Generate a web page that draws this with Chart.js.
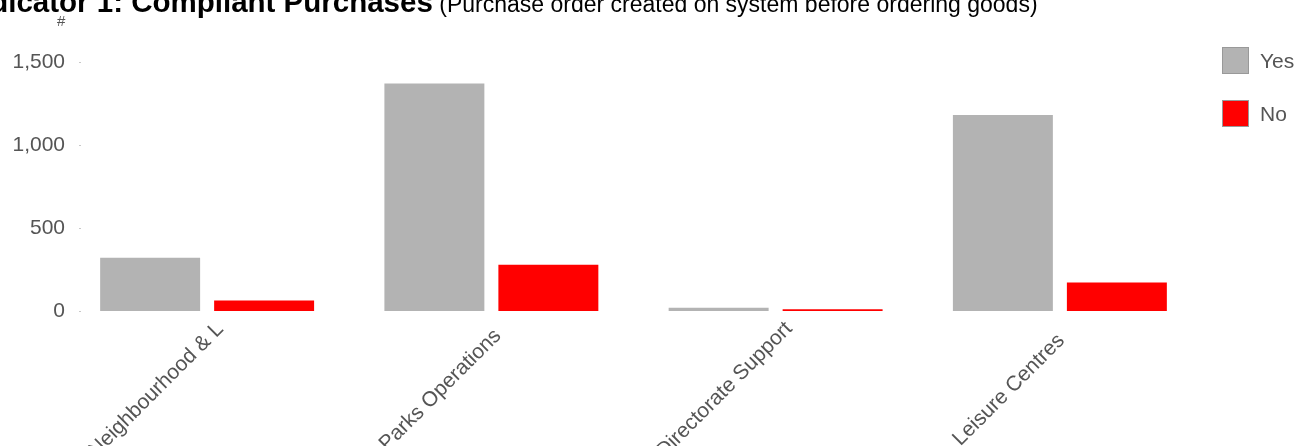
<!DOCTYPE html>
<html>
<head>
<meta charset="utf-8">
<script src="https://cdn.jsdelivr.net/npm/chart.js@4"></script>
<style>
  html, body { margin: 0; padding: 0; background: #fff; overflow: hidden; }
  #wrap { position: relative; width: 1300px; height: 446px; }
  #title {
    position: absolute; left: -36px; top: -15px; white-space: nowrap;
    font-family: "Liberation Sans", Arial, sans-serif; color: #000;
  }
  #title b { font-weight: bold; font-size: 29.5px; }
  #title span { font-size: 23px; }
  #unit {
    position: absolute; left: 57px; top: 12px;
    font-family: "Liberation Sans", Arial, sans-serif; font-size: 15px; color: #555;
  }
  #legend { position: absolute; left: 1222px; top: 47px; }
  .item { display: flex; align-items: center; height: 27px; margin-bottom: 26px;
    font-family: "Liberation Sans", Arial, sans-serif; font-size: 21px; color: #555; }
  .box { width: 25px; height: 25px; border: 1px solid #999; margin-right: 11px; }
</style>
</head>
<body>
<div id="wrap">
  <canvas id="purchases" width="1300" height="446"></canvas>
  <div id="title"><b>Indicator 1: Compliant Purchases</b><span> (Purchase order created on system before ordering goods)</span></div>
  <div id="unit">#</div>
  <div id="legend"></div>
</div>
<script>
const departments = ['Neighbourhood & L', 'Parks Operations', 'Directorate Support', 'Leisure Centres'];
const yesCounts = [321, 1370, 20, 1180];
const noCounts = [64, 279, 10, 171];
const yTicks = [0, 500, 1000, 1500];

const fontFamily = '"Liberation Sans", Arial, sans-serif';

// little grey dots next to the value labels
const tickDots = {
    id: 'tickDots',
    afterDraw(chart) {
        const ctx = chart.ctx;
        const y = chart.scales.y;
        ctx.save();
        ctx.fillStyle = '#c8c8c8';
        y.ticks.forEach(t => {
            const py = Math.round(y.getPixelForValue(t.value));
            ctx.fillRect(chart.chartArea.left + 14, py, 2, 1);
        });
        ctx.restore();
    }
};

// category labels at 45 degrees, centred on a point below-left of each tick
const slantLabels = {
    id: 'slantLabels',
    afterDraw(chart) {
        const ctx = chart.ctx;
        const x = chart.scales.x;
        ctx.save();
        ctx.font = '21px ' + fontFamily;
        ctx.fillStyle = '#555';
        ctx.textAlign = 'center';
        ctx.textBaseline = 'middle';
        chart.data.labels.forEach((label, i) => {
            ctx.save();
            ctx.translate(x.getPixelForTick(i) - 51, chart.chartArea.bottom + 79);
            ctx.rotate(-Math.PI / 4);
            ctx.fillText(label, 0, 0);
            ctx.restore();
        });
        ctx.restore();
    }
};

const chart = new Chart(document.getElementById('purchases'), {
    type: 'bar',
    data: {
        labels: departments,
        datasets: [
            {
                label: 'Yes',
                data: yesCounts,
                backgroundColor: '#b3b3b3',
                borderColor: '#999999',
            },
            {
                label: 'No',
                data: noCounts,
                backgroundColor: '#ff0000',
                borderColor: '#cc0000',
            }
        ]
    },
    options: {
        responsive: false,
        animation: false,
        categoryPercentage: 0.802,
        barPercentage: 0.877,
        layout: {
            padding: { left: 0, top: 62, right: 98, bottom: 0 }
        },
        plugins: {
            legend: { display: false },
            tooltip: { enabled: false }
        },
        scales: {
            x: {
                grid: { display: false, drawTicks: false },
                border: { display: false },
                ticks: { display: false },
                afterFit: (scale) => { scale.height = 135; }
            },
            y: {
                min: 0,
                max: 1500,
                afterBuildTicks: (scale) => {
                    scale.ticks = yTicks.map(v => ({ value: v }));
                },
                grid: { display: false, drawTicks: false },
                border: { display: false },
                ticks: {
                    padding: 0,
                    color: '#555',
                    font: { family: fontFamily, size: 21 },
                    callback: (v) => v.toLocaleString('en-US')
                },
                afterFit: (scale) => { scale.width = 65; }
            }
        }
    },
    plugins: [tickDots, slantLabels]
});

// legend built from the datasets
const legend = document.getElementById('legend');
chart.data.datasets.forEach(ds => {
    const item = document.createElement('div');
    item.className = 'item';
    item.innerHTML = '<div class="box" style="background:' + ds.backgroundColor + '"></div>' + ds.label;
    legend.appendChild(item);
});
</script>
</body>
</html>
